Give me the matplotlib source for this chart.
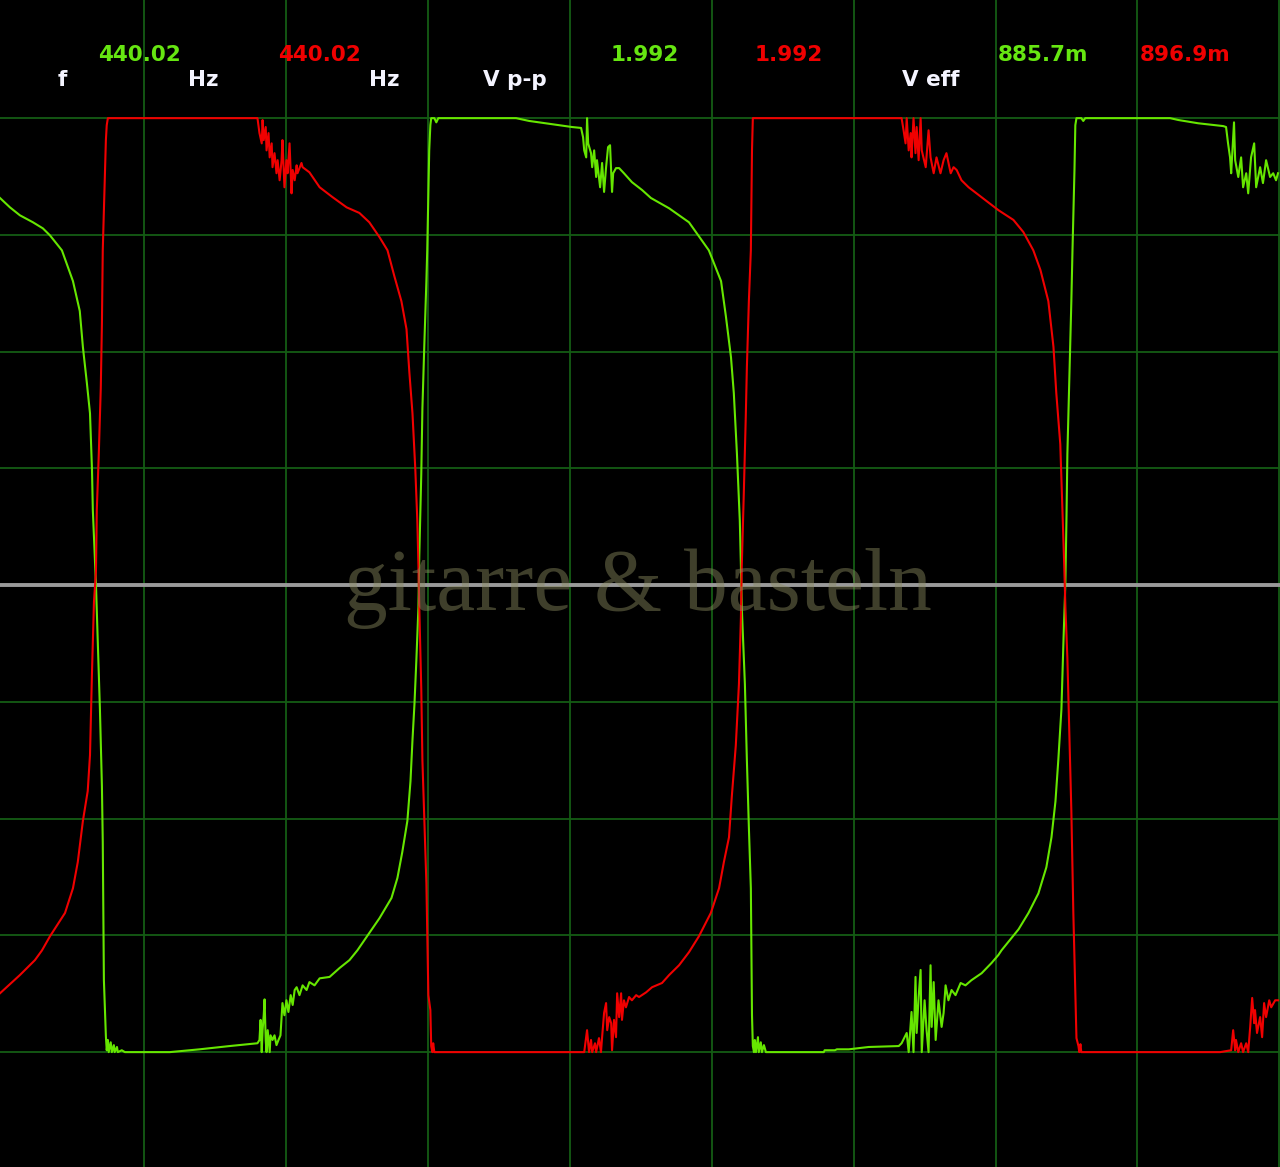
import numpy as np
import matplotlib
matplotlib.use('Agg')
import matplotlib.pyplot as plt

# Kanal 1 (gruen): Zeit in ms, Spannung in V
gruen_t = [-0.007, 0.028, 0.063, 0.109, 0.144, 0.169, 0.211, 0.250, 0.274, 0.285,
           0.299, 0.310, 0.317, 0.320, 0.327, 0.331, 0.338, 0.345, 0.352, 0.355,
           0.359, 0.366, 0.369, 0.373, 0.376, 0.383, 0.387, 0.394, 0.397, 0.405,
           0.408, 0.422, 0.433, 0.591, 0.696, 0.802, 0.900, 0.907, 0.911, 0.915,
           0.918, 0.922, 0.925, 0.929, 0.932, 0.936, 0.943, 0.946, 0.953, 0.960,
           0.967, 0.974, 0.981, 0.988, 0.995, 1.002, 1.009, 1.017, 1.024, 1.031,
           1.038, 1.048, 1.059, 1.073, 1.083, 1.101, 1.119, 1.154, 1.189, 1.224,
           1.252, 1.330, 1.372, 1.393, 1.410, 1.428, 1.439, 1.446, 1.453, 1.460,
           1.467, 1.470, 1.477, 1.481, 1.488, 1.495, 1.498, 1.505, 1.509, 1.512,
           1.523, 1.530, 1.537, 1.811, 1.857, 1.938, 2.008, 2.040, 2.047, 2.051,
           2.058, 2.061, 2.065, 2.075, 2.079, 2.086, 2.093, 2.096, 2.107, 2.114,
           2.121, 2.128, 2.135, 2.142, 2.149, 2.153, 2.163, 2.174, 2.191, 2.219,
           2.255, 2.286, 2.350, 2.420, 2.455, 2.490, 2.533, 2.550, 2.568, 2.578,
           2.589, 2.599, 2.603, 2.606, 2.617, 2.624, 2.631, 2.638, 2.642, 2.645,
           2.649, 2.652, 2.656, 2.663, 2.666, 2.673, 2.677, 2.684, 2.691, 2.895,
           2.898, 2.934, 2.941, 2.983, 3.053, 3.159, 3.169, 3.187, 3.194, 3.204,
           3.211, 3.218, 3.222, 3.229, 3.236, 3.240, 3.250, 3.257, 3.264, 3.271,
           3.275, 3.282, 3.289, 3.299, 3.310, 3.317, 3.324, 3.334, 3.345, 3.359,
           3.377, 3.394, 3.415, 3.451, 3.486, 3.510, 3.521, 3.581, 3.616, 3.651,
           3.679, 3.697, 3.711, 3.721, 3.732, 3.739, 3.746, 3.750, 3.753, 3.760,
           3.767, 3.771, 3.778, 3.781, 3.785, 3.802, 3.809, 3.816, 4.115, 4.144,
           4.214, 4.302, 4.312, 4.319, 4.326, 4.330, 4.340, 4.344, 4.355, 4.365,
           4.372, 4.383, 4.390, 4.400, 4.411, 4.418, 4.432, 4.442, 4.453, 4.467,
           4.478, 4.488, 4.495]
gruen_v = [0.829, 0.809, 0.792, 0.777, 0.764, 0.749, 0.717, 0.651, 0.587, 0.510,
           0.433, 0.368, 0.248, 0.161, 0.062, 0.002, -0.135, -0.266, -0.430, -0.550,
           -0.846, -0.966, -0.996, -0.974, -1.000, -0.979, -1.000, -0.985, -1.000, -0.989,
           -1.000, -0.996, -1.000, -1.000, -0.994, -0.987, -0.981, -0.974, -0.931, -1.000,
           -0.953, -0.921, -0.887, -0.974, -1.000, -0.953, -1.000, -0.964, -0.974, -0.964,
           -0.985, -0.974, -0.964, -0.895, -0.921, -0.889, -0.914, -0.878, -0.899, -0.867,
           -0.861, -0.878, -0.857, -0.867, -0.850, -0.857, -0.842, -0.839, -0.820, -0.803,
           -0.782, -0.713, -0.670, -0.627, -0.572, -0.505, -0.420, -0.332, -0.255, -0.156,
           -0.047, 0.062, 0.238, 0.379, 0.520, 0.651, 0.717, 0.931, 0.985, 1.000,
           1.000, 0.991, 1.000, 1.000, 0.994, 0.987, 0.981, 0.979, 0.959, 0.931,
           0.916, 1.000, 0.946, 0.925, 0.895, 0.931, 0.874, 0.910, 0.852, 0.904,
           0.842, 0.895, 0.938, 0.942, 0.842, 0.882, 0.893, 0.893, 0.882, 0.863,
           0.846, 0.829, 0.807, 0.777, 0.747, 0.717, 0.651, 0.576, 0.488, 0.411,
           0.281, 0.139, 0.041, -0.047, -0.212, -0.375, -0.518, -0.649, -0.921, -0.987,
           -1.000, -0.974, -1.000, -0.968, -1.000, -0.979, -1.000, -0.985, -1.000, -1.000,
           -0.996, -0.996, -0.994, -0.994, -0.989, -0.987, -0.981, -0.959, -1.000, -0.914,
           -1.000, -0.839, -0.959, -0.882, -0.824, -1.000, -0.889, -0.953, -1.000, -0.814,
           -0.946, -0.850, -0.974, -0.889, -0.946, -0.916, -0.857, -0.889, -0.867, -0.878,
           -0.852, -0.857, -0.846, -0.831, -0.809, -0.792, -0.782, -0.737, -0.702, -0.660,
           -0.604, -0.540, -0.463, -0.375, -0.266, -0.124, 0.006, 0.150, 0.281, 0.443,
           0.608, 0.717, 0.889, 0.985, 1.000, 1.000, 0.994, 1.000, 1.000, 0.996,
           0.989, 0.983, 0.981, 0.946, 0.916, 0.882, 0.991, 0.910, 0.874, 0.916,
           0.852, 0.882, 0.839, 0.916, 0.946, 0.852, 0.895, 0.861, 0.910, 0.874,
           0.882, 0.867, 0.882]

# Kanal 2 (rot)
rot_t = [-0.007, 0.063, 0.116, 0.141, 0.169, 0.222, 0.250, 0.267, 0.285, 0.302,
         0.310, 0.317, 0.324, 0.331, 0.334, 0.341, 0.348, 0.352, 0.355, 0.362,
         0.366, 0.369, 0.373, 0.900, 0.907, 0.915, 0.918, 0.922, 0.929, 0.932,
         0.939, 0.943, 0.950, 0.953, 0.960, 0.967, 0.971, 0.978, 0.985, 0.988,
         0.995, 1.002, 1.006, 1.013, 1.020, 1.024, 1.031, 1.038, 1.041, 1.055,
         1.059, 1.083, 1.119, 1.164, 1.214, 1.259, 1.294, 1.330, 1.358, 1.382,
         1.407, 1.425, 1.435, 1.446, 1.456, 1.463, 1.467, 1.470, 1.477, 1.481,
         1.488, 1.495, 1.502, 1.509, 1.512, 1.516, 1.519, 1.523, 2.051, 2.061,
         2.068, 2.075, 2.079, 2.089, 2.093, 2.103, 2.110, 2.114, 2.121, 2.128,
         2.132, 2.139, 2.146, 2.149, 2.156, 2.163, 2.167, 2.174, 2.181, 2.184,
         2.191, 2.198, 2.209, 2.219, 2.234, 2.244, 2.269, 2.290, 2.325, 2.350,
         2.385, 2.420, 2.455, 2.497, 2.526, 2.543, 2.561, 2.571, 2.585, 2.596,
         2.603, 2.606, 2.613, 2.620, 2.624, 2.631, 2.638, 2.642, 2.645, 3.169,
         3.176, 3.183, 3.187, 3.194, 3.201, 3.204, 3.211, 3.218, 3.222, 3.229,
         3.236, 3.240, 3.254, 3.264, 3.271, 3.282, 3.292, 3.306, 3.317, 3.327,
         3.342, 3.352, 3.363, 3.380, 3.405, 3.433, 3.465, 3.510, 3.563, 3.598,
         3.633, 3.658, 3.686, 3.704, 3.714, 3.728, 3.735, 3.742, 3.746, 3.753,
         3.760, 3.767, 3.774, 3.781, 3.785, 3.792, 3.795, 3.799, 3.802, 4.291,
         4.330, 4.337, 4.344, 4.347, 4.355, 4.365, 4.372, 4.383, 4.390, 4.397,
         4.404, 4.411, 4.414, 4.421, 4.432, 4.439, 4.446, 4.453, 4.464, 4.471,
         4.485, 4.495]
rot_v = [-0.874, -0.835, -0.803, -0.782, -0.752, -0.702, -0.649, -0.593, -0.505, -0.441,
         -0.364, -0.188, -0.036, 0.030, 0.161, 0.281, 0.422, 0.559, 0.717, 0.867,
         0.953, 0.985, 1.000, 1.000, 0.968, 0.946, 0.996, 0.953, 0.981, 0.931,
         0.968, 0.916, 0.946, 0.895, 0.925, 0.882, 0.910, 0.867, 0.910, 0.953,
         0.852, 0.910, 0.882, 0.946, 0.839, 0.889, 0.867, 0.899, 0.882, 0.904,
         0.895, 0.884, 0.852, 0.831, 0.809, 0.797, 0.777, 0.745, 0.717, 0.662,
         0.608, 0.548, 0.456, 0.368, 0.248, 0.139, 0.041, -0.047, -0.223, -0.375,
         -0.505, -0.638, -0.878, -0.910, -0.987, -1.000, -0.981, -1.000, -1.000, -0.953,
         -1.000, -0.974, -1.000, -0.981, -1.000, -0.970, -1.000, -0.968, -0.916, -0.895,
         -0.953, -0.925, -0.938, -0.996, -0.931, -0.968, -0.874, -0.925, -0.874, -0.931,
         -0.889, -0.904, -0.882, -0.889, -0.878, -0.882, -0.872, -0.861, -0.852, -0.835,
         -0.814, -0.786, -0.752, -0.702, -0.649, -0.593, -0.540, -0.452, -0.343, -0.212,
         -0.069, 0.041, 0.193, 0.358, 0.467, 0.608, 0.717, 0.931, 1.000, 1.000,
         0.974, 0.946, 1.000, 0.931, 0.968, 0.916, 1.000, 0.925, 0.981, 0.910,
         1.000, 0.931, 0.895, 0.974, 0.916, 0.882, 0.916, 0.882, 0.910, 0.925,
         0.882, 0.895, 0.889, 0.867, 0.852, 0.839, 0.824, 0.803, 0.782, 0.756,
         0.717, 0.675, 0.608, 0.510, 0.411, 0.302, 0.171, 0.041, -0.047, -0.156,
         -0.321, -0.484, -0.702, -0.867, -0.970, -0.987, -1.000, -0.983, -1.000, -1.000,
         -0.996, -0.953, -0.996, -0.974, -1.000, -0.981, -1.000, -0.981, -1.000, -0.946,
         -0.884, -0.938, -0.910, -0.959, -0.925, -0.968, -0.895, -0.925, -0.889, -0.904,
         -0.889, -0.889]

# Messwerte oben
messwerte = [
    ('f', '440.02', '440.02', 'Hz'),
    ('V p-p', '1.992', '1.992', ''),
    ('V eff', '885.7m', '896.9m', ''),
]

ms_pro_div = 0.5
v_pro_div = 0.25

fig = plt.figure(figsize=(12.8, 11.67), dpi=100, facecolor='black')
ax = fig.add_axes([0, 0, 1, 1])
ax.set_facecolor('black')

# Raster
ax.set_xticks(np.arange(0.5, 4.51, ms_pro_div))
ax.set_yticks(np.arange(-1.0, 1.01, v_pro_div))
ax.grid(True, color='#145c14', linewidth=1.3)
ax.tick_params(length=0, labelbottom=False, labelleft=False)
for s in ax.spines.values():
    s.set_visible(False)
ax.axhline(0, color='#9a9a9a', linewidth=2.8, zorder=2)

ax.plot(gruen_t, gruen_v, color='#66e600', linewidth=1.5, zorder=3)
ax.plot(rot_t, rot_v, color='#f00000', linewidth=1.5, zorder=3)

ax.set_xlim(-0.007, 4.502)
ax.set_ylim(-1.246, 1.253)

# Wasserzeichen
ax.text(0.498, 0.4775, 'gitarre & basteln', transform=ax.transAxes,
        ha='center', va='baseline', fontsize=63, family='Liberation Serif',
        color='#8c8c60', alpha=0.45, zorder=5)

# Beschriftung oben (Pixelpositionen im Bild)
W, H = 1280, 1167
pos_label = [62, 515, 931]
pos_gruen = [139, 645, 1043]
pos_rot = [319, 789, 1185]
pos_einheit = [(203, 384), None, None]
for i, (name, g, r, einheit) in enumerate(messwerte):
    fig.text(pos_label[i] / W, 1 - 80 / H, name, color='#f4f4ff', fontsize=15.5,
             fontweight='bold', ha='center', va='center')
    fig.text(pos_gruen[i] / W, 1 - 55 / H, g, color='#66e611', fontsize=15.5,
             fontweight='bold', ha='center', va='center')
    fig.text(pos_rot[i] / W, 1 - 55 / H, r, color='#f00000', fontsize=15.5,
             fontweight='bold', ha='center', va='center')
    if pos_einheit[i]:
        for px in pos_einheit[i]:
            fig.text(px / W, 1 - 80 / H, einheit, color='#f4f4ff', fontsize=15.5,
                     fontweight='bold', ha='center', va='center')

fig.savefig('out.png', dpi=100, facecolor='black')
